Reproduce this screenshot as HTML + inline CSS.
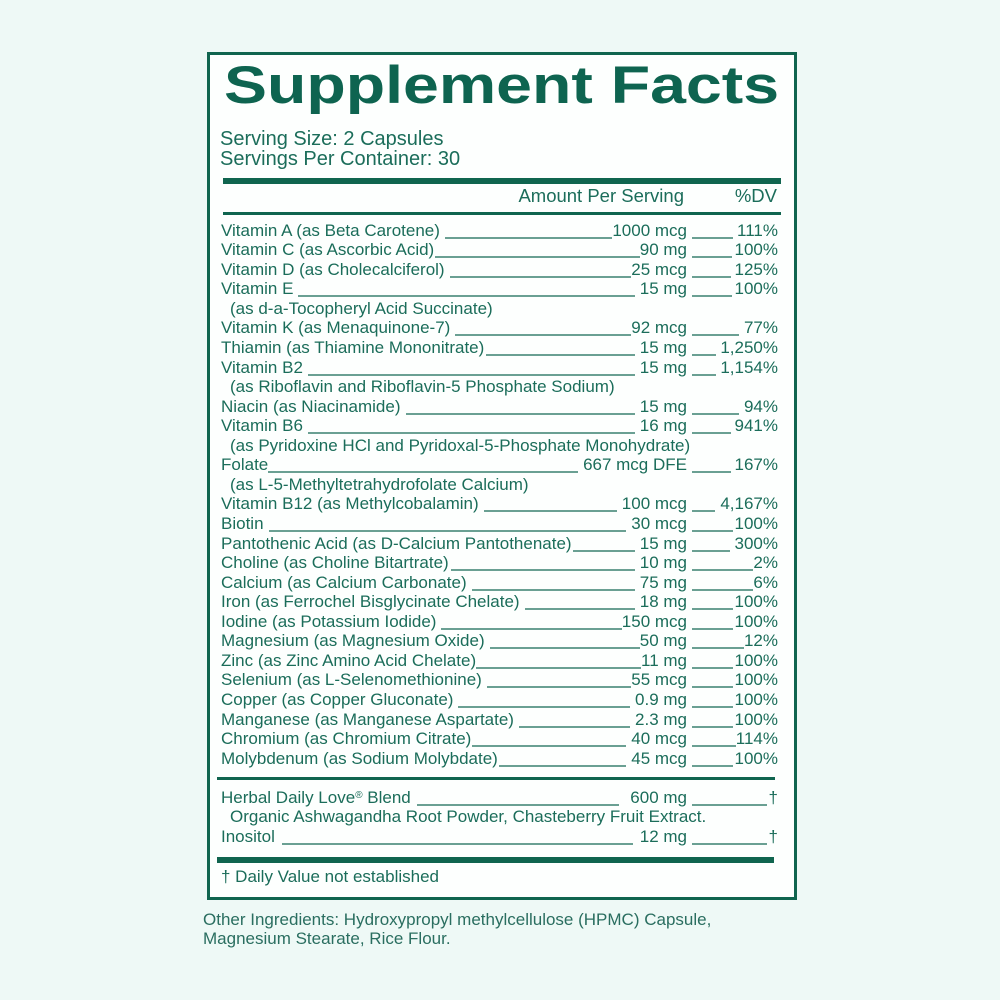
<!DOCTYPE html>
<html><head><meta charset="utf-8"><style>
html,body{margin:0;padding:0}
body{width:1000px;height:1000px;background:#eef9f6;position:relative;overflow:hidden;font-family:"Liberation Sans",Arial,sans-serif;color:#1b6d5a}
.box{position:absolute;left:207px;top:52px;width:584px;height:842px;border:3px solid #10654f;background:#fdfffe}
.t{position:absolute;white-space:nowrap}
.title{left:223.5px;top:59px;font-size:53px;line-height:53px;font-weight:bold;color:#0e6450;transform:scaleX(1.216);transform-origin:0 0;letter-spacing:0}
.ss{font-size:20px;line-height:20px;left:220px}
.rule{position:absolute;background:#10654f}
.hd{font-size:18.5px;line-height:18.5px;top:187px}
.r{position:absolute;left:221px;width:557px;height:17px;font-size:17px;line-height:17px;display:flex;white-space:nowrap}
.lp{width:466px;display:flex}
.rp{width:91px;display:flex}
.l{flex:1;align-self:flex-start;margin-top:15px;height:2px;background:#6aa093;min-width:0}
.c{position:absolute;left:230px;font-size:17px;line-height:17px;white-space:nowrap}
.reg{font-size:10px;vertical-align:5px;line-height:0}
.foot{position:absolute;left:203px;font-size:17px;line-height:17px;white-space:nowrap;color:#2a6e60}
</style></head><body>
<div class="box"></div>
<div class="t title">Supplement Facts</div>
<div class="t ss" style="top:129px">Serving Size: 2 Capsules</div>
<div class="t ss" style="top:149px">Servings Per Container: 30</div>
<div class="rule" style="left:223px;top:178px;width:558px;height:6px"></div>
<div class="t hd" style="right:316px">Amount Per Serving</div>
<div class="t hd" style="right:223px">%DV</div>
<div class="rule" style="left:223px;top:212px;width:558px;height:3px"></div>

<div class="r" style="top:222px"><div class="lp"><span>Vitamin A (as Beta Carotene)</span><i class="l" style="margin-left:5px;margin-right:0"></i><span>1000 mcg</span></div><div class="rp"><i class="l" style="margin-left:5px;margin-right:4px"></i><span>111%</span></div></div>
<div class="r" style="top:241px"><div class="lp"><span>Vitamin C (as Ascorbic Acid)</span><i class="l" style="margin-left:1px;margin-right:0"></i><span>90 mg</span></div><div class="rp"><i class="l" style="margin-left:5px;margin-right:3px"></i><span>100%</span></div></div>
<div class="r" style="top:261px"><div class="lp"><span>Vitamin D (as Cholecalciferol)</span><i class="l" style="margin-left:5px;margin-right:0"></i><span>25 mcg</span></div><div class="rp"><i class="l" style="margin-left:5px;margin-right:4px"></i><span>125%</span></div></div>
<div class="r" style="top:280px"><div class="lp"><span>Vitamin E</span><i class="l" style="margin-left:5px;margin-right:5px"></i><span>15 mg</span></div><div class="rp"><i class="l" style="margin-left:5px;margin-right:3px"></i><span>100%</span></div></div>
<div class="c" style="top:300px">(as d-a-Tocopheryl Acid Succinate)</div>
<div class="r" style="top:319px"><div class="lp"><span>Vitamin K (as Menaquinone-7)</span><i class="l" style="margin-left:5px;margin-right:0"></i><span>92 mcg</span></div><div class="rp"><i class="l" style="margin-left:5px;margin-right:5px"></i><span>77%</span></div></div>
<div class="r" style="top:339px"><div class="lp"><span>Thiamin (as Thiamine Mononitrate)</span><i class="l" style="margin-left:2px;margin-right:5px"></i><span>15 mg</span></div><div class="rp"><i class="l" style="margin-left:5px;margin-right:4px"></i><span>1,250%</span></div></div>
<div class="r" style="top:359px"><div class="lp"><span>Vitamin B2</span><i class="l" style="margin-left:5px;margin-right:5px"></i><span>15 mg</span></div><div class="rp"><i class="l" style="margin-left:5px;margin-right:4px"></i><span>1,154%</span></div></div>
<div class="c" style="top:378px">(as Riboflavin and Riboflavin-5 Phosphate Sodium)</div>
<div class="r" style="top:398px"><div class="lp"><span>Niacin (as Niacinamide)</span><i class="l" style="margin-left:5px;margin-right:5px"></i><span>15 mg</span></div><div class="rp"><i class="l" style="margin-left:5px;margin-right:5px"></i><span>94%</span></div></div>
<div class="r" style="top:417px"><div class="lp"><span>Vitamin B6</span><i class="l" style="margin-left:5px;margin-right:5px"></i><span>16 mg</span></div><div class="rp"><i class="l" style="margin-left:5px;margin-right:4px"></i><span>941%</span></div></div>
<div class="c" style="top:437px">(as Pyridoxine HCl and Pyridoxal-5-Phosphate Monohydrate)</div>
<div class="r" style="top:456px"><div class="lp"><span>Folate</span><i class="l" style="margin-left:0;margin-right:5px"></i><span>667 mcg DFE</span></div><div class="rp"><i class="l" style="margin-left:5px;margin-right:4px"></i><span>167%</span></div></div>
<div class="c" style="top:476px">(as L-5-Methyltetrahydrofolate Calcium)</div>
<div class="r" style="top:495px"><div class="lp"><span>Vitamin B12 (as Methylcobalamin)</span><i class="l" style="margin-left:5px;margin-right:5px"></i><span>100 mcg</span></div><div class="rp"><i class="l" style="margin-left:5px;margin-right:5px"></i><span>4,167%</span></div></div>
<div class="r" style="top:515px"><div class="lp"><span>Biotin</span><i class="l" style="margin-left:5px;margin-right:5px"></i><span>30 mcg</span></div><div class="rp"><i class="l" style="margin-left:5px;margin-right:2px"></i><span>100%</span></div></div>
<div class="r" style="top:535px"><div class="lp"><span>Pantothenic Acid (as D-Calcium Pantothenate)</span><i class="l" style="margin-left:1px;margin-right:5px"></i><span>15 mg</span></div><div class="rp"><i class="l" style="margin-left:5px;margin-right:5px"></i><span>300%</span></div></div>
<div class="r" style="top:554px"><div class="lp"><span>Choline (as Choline Bitartrate)</span><i class="l" style="margin-left:2px;margin-right:5px"></i><span>10 mg</span></div><div class="rp"><i class="l" style="margin-left:5px;margin-right:0"></i><span>2%</span></div></div>
<div class="r" style="top:574px"><div class="lp"><span>Calcium (as Calcium Carbonate)</span><i class="l" style="margin-left:5px;margin-right:5px"></i><span>75 mg</span></div><div class="rp"><i class="l" style="margin-left:5px;margin-right:0"></i><span>6%</span></div></div>
<div class="r" style="top:593px"><div class="lp"><span>Iron (as Ferrochel Bisglycinate Chelate)</span><i class="l" style="margin-left:5px;margin-right:5px"></i><span>18 mg</span></div><div class="rp"><i class="l" style="margin-left:5px;margin-right:2px"></i><span>100%</span></div></div>
<div class="r" style="top:613px"><div class="lp"><span>Iodine (as Potassium Iodide)</span><i class="l" style="margin-left:5px;margin-right:0"></i><span>150 mcg</span></div><div class="rp"><i class="l" style="margin-left:5px;margin-right:2px"></i><span>100%</span></div></div>
<div class="r" style="top:632px"><div class="lp"><span>Magnesium (as Magnesium Oxide)</span><i class="l" style="margin-left:5px;margin-right:0"></i><span>50 mg</span></div><div class="rp"><i class="l" style="margin-left:5px;margin-right:0"></i><span>12%</span></div></div>
<div class="r" style="top:652px"><div class="lp"><span>Zinc (as Zinc Amino Acid Chelate)</span><i class="l" style="margin-left:0;margin-right:0"></i><span>11 mg</span></div><div class="rp"><i class="l" style="margin-left:5px;margin-right:2px"></i><span>100%</span></div></div>
<div class="r" style="top:671px"><div class="lp"><span>Selenium (as L-Selenomethionine)</span><i class="l" style="margin-left:5px;margin-right:0"></i><span>55 mcg</span></div><div class="rp"><i class="l" style="margin-left:5px;margin-right:2px"></i><span>100%</span></div></div>
<div class="r" style="top:691px"><div class="lp"><span>Copper (as Copper Gluconate)</span><i class="l" style="margin-left:5px;margin-right:5px"></i><span>0.9 mg</span></div><div class="rp"><i class="l" style="margin-left:5px;margin-right:2px"></i><span>100%</span></div></div>
<div class="r" style="top:711px"><div class="lp"><span>Manganese (as Manganese Aspartate)</span><i class="l" style="margin-left:5px;margin-right:5px"></i><span>2.3 mg</span></div><div class="rp"><i class="l" style="margin-left:5px;margin-right:2px"></i><span>100%</span></div></div>
<div class="r" style="top:730px"><div class="lp"><span>Chromium (as Chromium Citrate)</span><i class="l" style="margin-left:1px;margin-right:5px"></i><span>40 mcg</span></div><div class="rp"><i class="l" style="margin-left:5px;margin-right:0"></i><span>114%</span></div></div>
<div class="r" style="top:750px"><div class="lp"><span>Molybdenum (as Sodium Molybdate)</span><i class="l" style="margin-left:1px;margin-right:5px"></i><span>45 mcg</span></div><div class="rp"><i class="l" style="margin-left:5px;margin-right:2px"></i><span>100%</span></div></div>

<div class="rule" style="left:217px;top:777px;width:558px;height:3px"></div>

<div class="r" style="top:789px"><div class="lp"><span>Herbal Daily Love<span class="reg">®</span> Blend</span><i class="l" style="margin-left:6px;margin-right:11px"></i><span>600 mg</span></div><div class="rp"><i class="l" style="margin-left:5px;margin-right:2px"></i><span>†</span></div></div>
<div class="c" style="top:808px">Organic Ashwagandha Root Powder, Chasteberry Fruit Extract.</div>
<div class="r" style="top:828px"><div class="lp"><span>Inositol</span><i class="l" style="margin-left:7px;margin-right:7px"></i><span>12 mg</span></div><div class="rp"><i class="l" style="margin-left:5px;margin-right:2px"></i><span>†</span></div></div>

<div class="rule" style="left:217px;top:857px;width:557px;height:6px"></div>
<div class="t" style="left:221px;top:868px;font-size:17px;line-height:17px">† Daily Value not established</div>

<div class="foot" style="top:911px">Other Ingredients: Hydroxypropyl methylcellulose (HPMC) Capsule,</div>
<div class="foot" style="top:930px">Magnesium Stearate, Rice Flour.</div>
</body></html>
